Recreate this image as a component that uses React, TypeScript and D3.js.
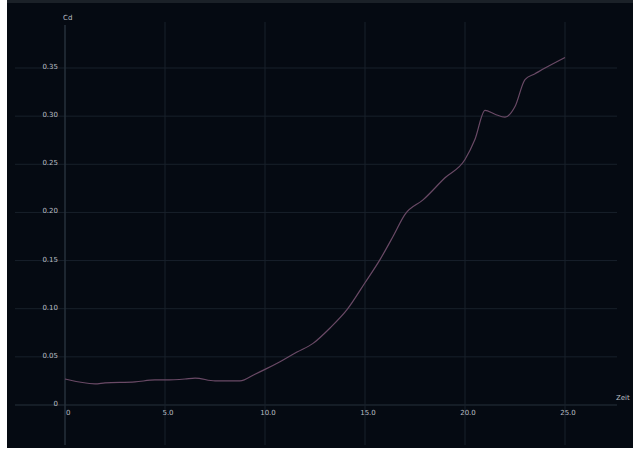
import React from "react";
import * as d3 from "d3";

// Drag coefficient trace over time
const timeValues = [0, 1.5, 2, 3.5, 4.5, 5, 6, 6.5, 7.5, 8.75, 9.5, 10, 10.75, 11.6, 12.4, 13.25, 14.1, 15, 15.75, 16.4, 17, 17.9, 19, 20, 20.5, 21, 21.5, 22, 22.5, 23, 23.5, 24, 25];
const cdValues = [0.027, 0.022, 0.023, 0.024, 0.026, 0.026, 0.027, 0.028, 0.025, 0.025, 0.032, 0.037, 0.045, 0.055, 0.064, 0.080, 0.099, 0.127, 0.151, 0.175, 0.198, 0.213, 0.236, 0.255, 0.276, 0.306, 0.302, 0.299, 0.31, 0.338, 0.344, 0.350, 0.361];

const xTicks = [0, 5, 10, 15, 20, 25];
const yTicks = [0, 0.05, 0.1, 0.15, 0.2, 0.25, 0.3, 0.35];
const xTitle = "Zeit";
const yTitle = "Cd";

const W = 633;
const H = 458;

export default function App() {
  const x = d3.scaleLinear().domain([0, 25]).range([65, 565]);
  const y = d3.scaleLinear().domain([0, 0.35]).range([405, 68]);
  const pts: [number, number][] = timeValues.map((t, i) => [t, cdValues[i]]);
  const line = d3
    .line<[number, number]>()
    .x((d) => x(d[0]))
    .y((d) => y(d[1]))
    .curve(d3.curveMonotoneX);

  const grid = "#18212b";
  const axis = "#26303b";
  const text = "#b9bec4";

  return (
    <svg
      width={W}
      height={H}
      style={{ position: "absolute", left: 0, top: 0, display: "block" }}
      fontFamily="DejaVu Sans, sans-serif"
    >
      <rect x={0} y={0} width={W} height={H} fill="#ffffff" />
      <rect x={7} y={0} width={W - 7} height={448} fill="#050a12" />
      <rect x={7} y={0} width={W - 7} height={3} fill="#1b2128" />

      {/* horizontal grid */}
      {yTicks.map((v) => (
        <line
          key={"h" + v}
          x1={15}
          x2={617}
          y1={y(v)}
          y2={y(v)}
          stroke={v === 0 ? axis : grid}
          strokeWidth={1}
        />
      ))}
      {/* vertical grid */}
      {xTicks.map((v) => (
        <line
          key={"v" + v}
          x1={x(v)}
          x2={x(v)}
          y1={v === 0 ? 25 : 22}
          y2={445}
          stroke={v === 0 ? axis : grid}
          strokeWidth={v === 0 ? 1.5 : 1}
        />
      ))}

      {/* y tick labels */}
      {yTicks.map((v) => (
        <text
          key={"yl" + v}
          x={58}
          y={y(v) + 1}
          textAnchor="end"
          fontSize={7}
          fill={text}
        >
          {v === 0 ? "0" : v.toFixed(2)}
        </text>
      ))}
      {/* x tick labels */}
      {xTicks.map((v) => (
        <text
          key={"xl" + v}
          x={x(v) + (v === 0 ? 1 : 3)}
          y={415}
          textAnchor={v === 0 ? "start" : "middle"}
          fontSize={7}
          fill={text}
        >
          {v === 0 ? "0" : v.toFixed(1)}
        </text>
      ))}

      <text x={63} y={20} fontSize={7} fill={text}>
        {yTitle}
      </text>
      <text x={616} y={400} fontSize={7} fill={text}>
        {xTitle}
      </text>

      <path
        d={line(pts) || ""}
        fill="none"
        stroke="#6a4a66"
        strokeWidth={1.2}
      />
    </svg>
  );
}
